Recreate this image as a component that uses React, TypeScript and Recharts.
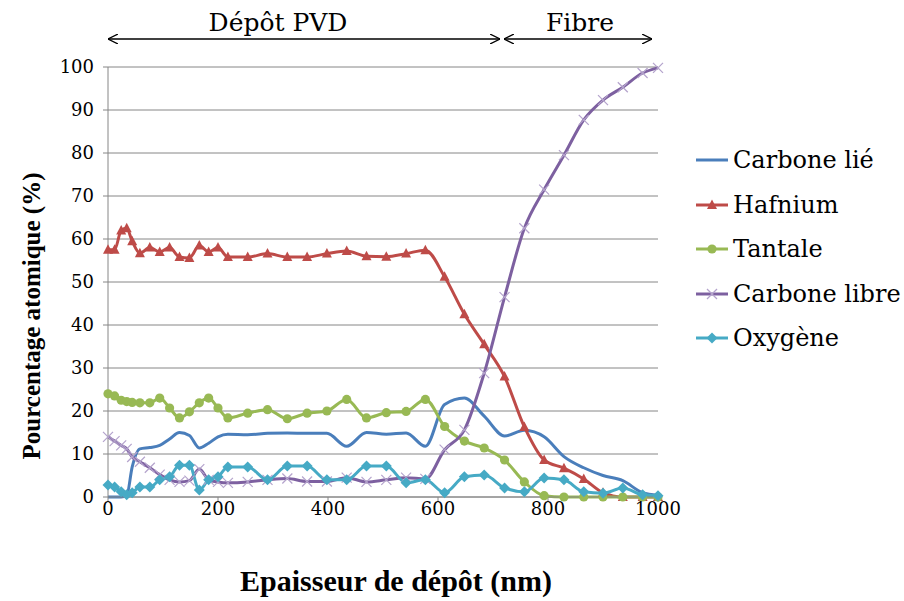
import { CartesianGrid, Line, LineChart, XAxis, YAxis } from "recharts";

const depth = [0, 12, 24, 34, 44, 58, 76, 94, 112, 130, 148, 166, 183, 200, 218, 254, 290, 326, 362, 398, 434, 470, 506, 542, 577, 612, 648, 684, 721, 757, 793, 829, 865, 900, 936, 972, 1000];

const carboneLie = [0, 0, 0, 0.3, 7, 11.2, 11.5, 12, 13.5, 15, 14.3, 11.4, 12.5, 14, 14.6, 14.5, 14.8, 14.9, 14.8, 14.8, 11.8, 15, 14.6, 14.9, 11.8, 21.5, 23, 18.8, 14.2, 15.5, 14, 9.4, 6.8, 5, 3.8, 1, 0.4];
const hafnium = [57.5, 57.5, 62, 62.5, 59.5, 56.7, 58, 57, 58, 55.8, 55.6, 58.5, 57, 58, 55.8, 55.8, 56.6, 55.8, 55.8, 56.6, 57.2, 56, 55.9, 56.6, 57.4, 51.2, 42.5, 35.5, 28, 16.3, 8.6, 6.7, 4.2, 1, 0, 0, 0];
const tantale = [24, 23.5, 22.5, 22.2, 22, 21.9, 21.9, 23, 20.7, 18.4, 19.8, 21.9, 23, 20.7, 18.4, 19.5, 20.3, 18.2, 19.5, 20, 22.7, 18.4, 19.6, 19.9, 22.7, 16.4, 13, 11.4, 8.6, 3.5, 0.3, 0, 0, 0, 0, 0, 0];
const carboneLibre = [14, 13, 12, 11.2, 9.3, 8.2, 6.8, 5.2, 4, 3.5, 3.8, 6.5, 4, 3.5, 3.3, 3.5, 4, 4.3, 3.6, 3.6, 4.5, 3.5, 4, 4.5, 4.2, 11, 15.6, 28.8, 46.5, 62.5, 71.5, 79.5, 87.7, 92.3, 95.3, 98.6, 99.8];
const oxygene = [2.8, 2.3, 1.2, 0.5, 1, 2.3, 2.3, 4, 4.7, 7.4, 7.4, 1.6, 4, 4.7, 7, 7, 4, 7.2, 7.2, 4, 4, 7.2, 7.2, 3.3, 4, 1, 4.7, 5.1, 2.1, 1.2, 4.4, 4, 1.2, 0.9, 2.1, 0.5, 0.3];

const xTicks = [0, 200, 400, 600, 800, 1000];
const yTicks = [0, 10, 20, 30, 40, 50, 60, 70, 80, 90, 100];

const data = depth.map((x, i) => ({
  x,
  carboneLie: carboneLie[i],
  hafnium: hafnium[i],
  tantale: tantale[i],
  carboneLibre: carboneLibre[i],
  oxygene: oxygene[i],
}));

type Marker = "none" | "triangle" | "circle" | "cross" | "diamond";

const series: { key: string; name: string; color: string; marker: Marker }[] = [
  { key: "carboneLie", name: "Carbone lié", color: "#4A7EBB", marker: "none" },
  { key: "hafnium", name: "Hafnium", color: "#BE4B48", marker: "triangle" },
  { key: "tantale", name: "Tantale", color: "#98B954", marker: "circle" },
  { key: "carboneLibre", name: "Carbone libre", color: "#7D60A0", marker: "cross" },
  { key: "oxygene", name: "Oxygène", color: "#46AAC5", marker: "diamond" },
];

// only DejaVu Serif gives a serif regular face here
const serif = '"DejaVu Serif", serif';
const serifBold = '"Times New Roman", "Liberation Serif", "DejaVu Serif", serif';
const grid = "#868686";

function MarkerShape({ cx, cy, marker, color }: { cx: number; cy: number; marker: Marker; color: string }) {
  if (cx == null || cy == null || marker === "none") return <g />;
  if (marker === "triangle")
    return <polygon points={`${cx},${cy - 5.5} ${cx - 5},${cy + 4} ${cx + 5},${cy + 4}`} fill={color} />;
  if (marker === "circle") return <circle cx={cx} cy={cy} r={4.6} fill={color} />;
  if (marker === "diamond")
    return <polygon points={`${cx},${cy - 5.5} ${cx + 5.5},${cy} ${cx},${cy + 5.5} ${cx - 5.5},${cy}`} fill={color} />;
  return (
    <g stroke="#B4A3CC" strokeWidth={1.2}>
      <line x1={cx - 5} y1={cy - 5} x2={cx + 5} y2={cy + 5} />
      <line x1={cx - 5} y1={cy + 5} x2={cx + 5} y2={cy - 5} />
    </g>
  );
}

function LegendBox() {
  return (
    <div style={{ position: "absolute", left: 695, top: 138, fontSize: 24, color: "#000", fontFamily: serif, whiteSpace: "nowrap" }}>
      {series.map((s) => (
        <div key={s.key} style={{ display: "flex", alignItems: "center", height: 44.5 }}>
          <svg width={34} height={20} style={{ marginRight: 4 }}>
            <line x1={1} y1={10} x2={33} y2={10} stroke={s.color} strokeWidth={3} />
            <MarkerShape cx={17} cy={10} marker={s.marker} color={s.color} />
          </svg>
          <span>{s.name}</span>
        </div>
      ))}
    </div>
  );
}

export default function App() {
  return (
    <div style={{ position: "absolute", left: 0, top: 0, width: 904, height: 601, background: "#fff", overflow: "hidden" }}>
      <LineChart width={904} height={601} data={data} margin={{ top: 67, right: 246, left: 48, bottom: 74 }}>
        <CartesianGrid horizontal vertical={false} stroke={grid} strokeWidth={1} />
        <XAxis
          dataKey="x"
          type="number"
          domain={[0, 1000]}
          ticks={xTicks}
          interval={0}
          height={30}
          stroke={grid}
          tickSize={5}
          tickMargin={0}
          tick={{ fill: "#000", fontSize: 18, fontFamily: serif }}
        />
        <YAxis
          type="number"
          domain={[0, 100]}
          ticks={yTicks}
          interval={0}
          width={60}
          stroke={grid}
          tickSize={5}
          tickMargin={9}
          tick={{ fill: "#000", fontSize: 18, fontFamily: serif }}
        />
        {series.map((s) => (
          <Line
            key={s.key}
            dataKey={s.key}
            name={s.name}
            type="monotone"
            stroke={s.color}
            strokeWidth={3}
            isAnimationActive={false}
            dot={
              s.marker === "none"
                ? false
                : (p: any) => <MarkerShape key={`${s.key}-${p.index}`} cx={p.cx} cy={p.cy} marker={s.marker} color={s.color} />
            }
            activeDot={false}
          />
        ))}
      </LineChart>
      <LegendBox />
      <svg width={904} height={601} style={{ position: "absolute", left: 0, top: 0, pointerEvents: "none" }}>
        <defs>
          <marker id="chev" viewBox="0 0 10 10" refX="10" refY="5" markerWidth="10" markerHeight="10" orient="auto-start-reverse" markerUnits="userSpaceOnUse">
            <path d="M0,0 L10,5 L0,10" fill="none" stroke="#000" strokeWidth={1.3} />
          </marker>
        </defs>
        <line x1={108} y1={39} x2={500} y2={39} stroke="#000" strokeWidth={1.3} markerStart="url(#chev)" markerEnd="url(#chev)" />
        <line x1={504} y1={39} x2={652} y2={39} stroke="#000" strokeWidth={1.3} markerStart="url(#chev)" markerEnd="url(#chev)" />
        <text x={278} y={31} textAnchor="middle" fontFamily={serif} fontSize={25}>Dépôt PVD</text>
        <text x={580} y={31} textAnchor="middle" fontFamily={serif} fontSize={25}>Fibre</text>
        <text x={396} y={591} textAnchor="middle" fontFamily={serifBold} fontSize={30} fontWeight="bold">Epaisseur de dépôt (nm)</text>
        <text x={0} y={0} transform="translate(40,316) rotate(-90)" textAnchor="middle" fontFamily={serifBold} fontSize={25} fontWeight="bold">Pourcentage atomique (%)</text>
      </svg>
    </div>
  );
}
